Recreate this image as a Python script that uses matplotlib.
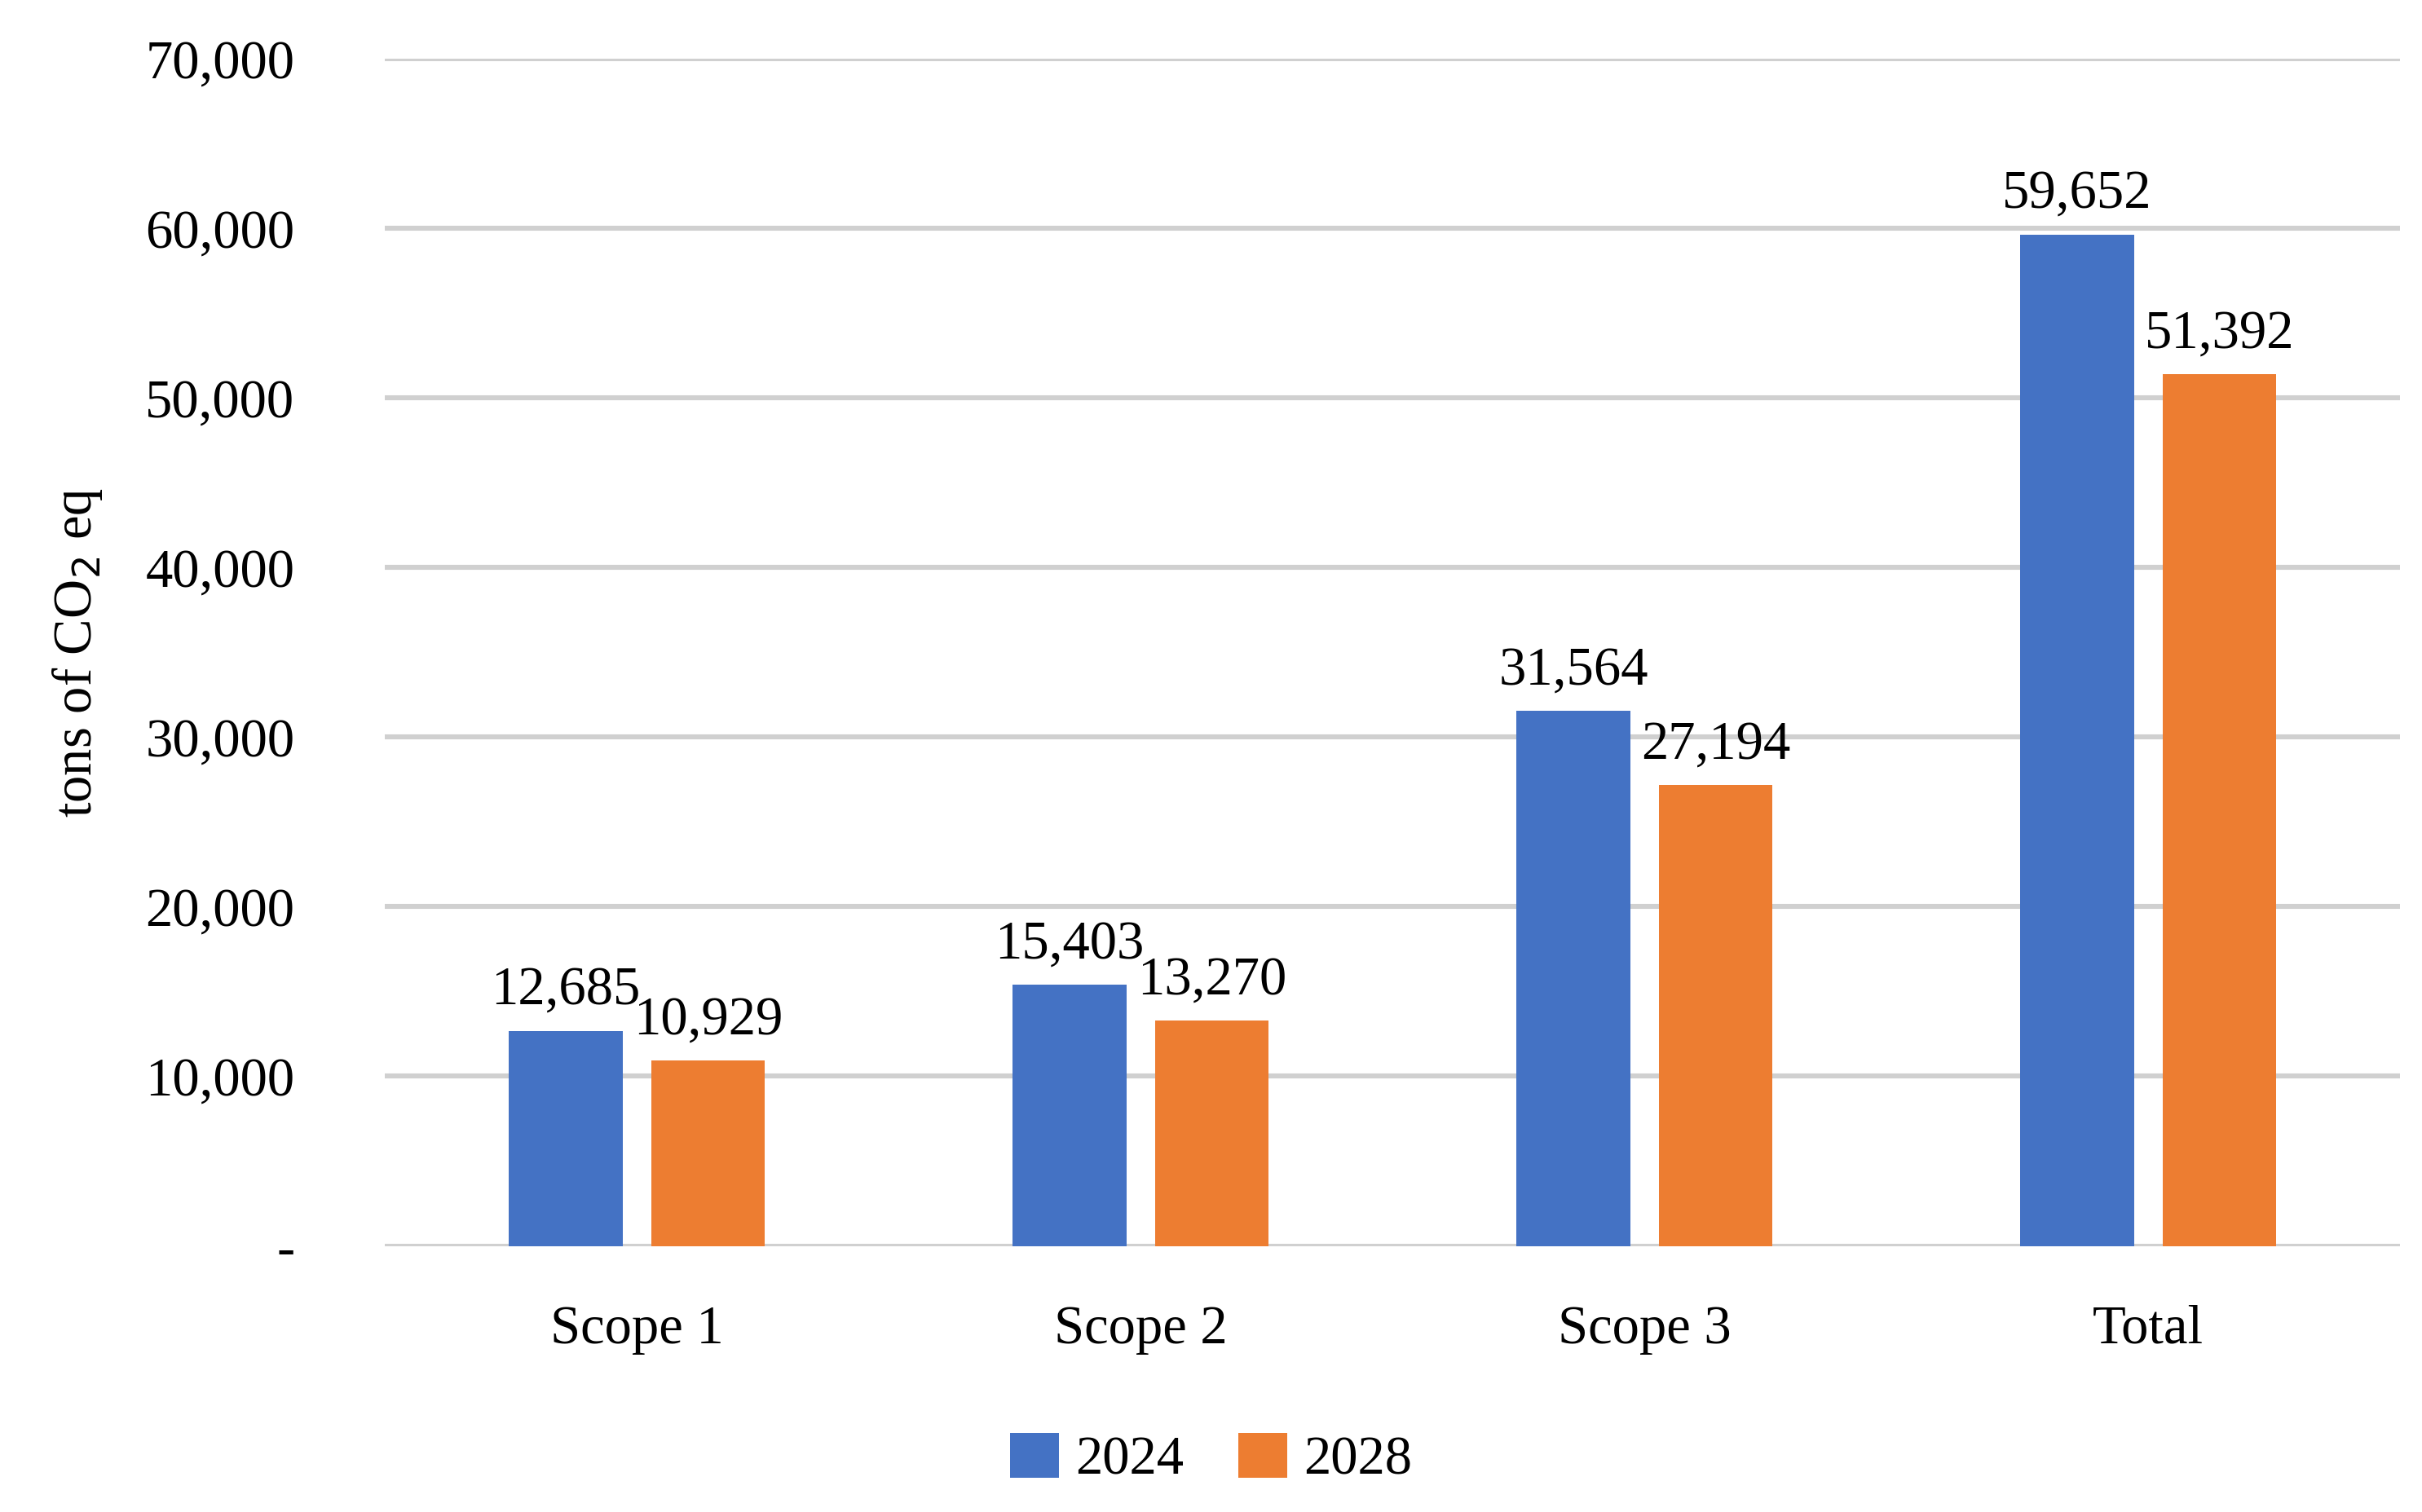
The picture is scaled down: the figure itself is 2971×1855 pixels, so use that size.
import matplotlib.pyplot as plt
import numpy as np

categories = ['Scope 1', 'Scope 2', 'Scope 3', 'Total']
series_2024 = [12685, 15403, 31564, 59652]
series_2028 = [10929, 13270, 27194, 51392]
y_ticks = [0, 10000, 20000, 30000, 40000, 50000, 60000, 70000]

plt.rcParams['font.family'] = 'Liberation Serif'
fs = 24

fig = plt.figure(figsize=(14.855, 9.275), dpi=200)
ax = fig.add_axes([0.159, 0.176, 0.832, 0.785])

x = np.arange(len(categories))
w = 0.226
off = 0.141
b1 = ax.bar(x - off, series_2024, w, color='#4472C4', label='2024', zorder=3)
b2 = ax.bar(x + off, series_2028, w, color='#ED7D31', label='2028', zorder=3)
for bars in (b1, b2):
    for r in bars:
        ax.text(r.get_x() + r.get_width() / 2, r.get_height() + 900,
                f'{int(r.get_height()):,}', ha='center', va='bottom', fontsize=fs)

ax.set_xlim(-0.5, 3.5)
ax.set_ylim(0, 70000)
ax.set_yticks(y_ticks)
ax.set_yticklabels(['-'] + [f'{v:,}' for v in y_ticks[1:]], fontsize=fs)
ax.set_xticks(x)
ax.set_xticklabels(categories, fontsize=fs)
ax.tick_params(axis='both', length=0)
ax.tick_params(axis='x', pad=26)
ax.tick_params(axis='y', pad=40)
ax.grid(axis='y', color='#d0d0d0', linewidth=2.2, zorder=0)
for s in ax.spines.values():
    s.set_visible(False)
ax.set_ylabel('tons of CO$_2$ eq', fontsize=fs, labelpad=18)

fig.legend(loc='lower center', ncol=2, frameon=False, fontsize=fs,
           bbox_to_anchor=(0.5, -0.015), handlelength=0.9, handleheight=0.9,
           columnspacing=1.0, handletextpad=0.3)

fig.savefig('out.png')
